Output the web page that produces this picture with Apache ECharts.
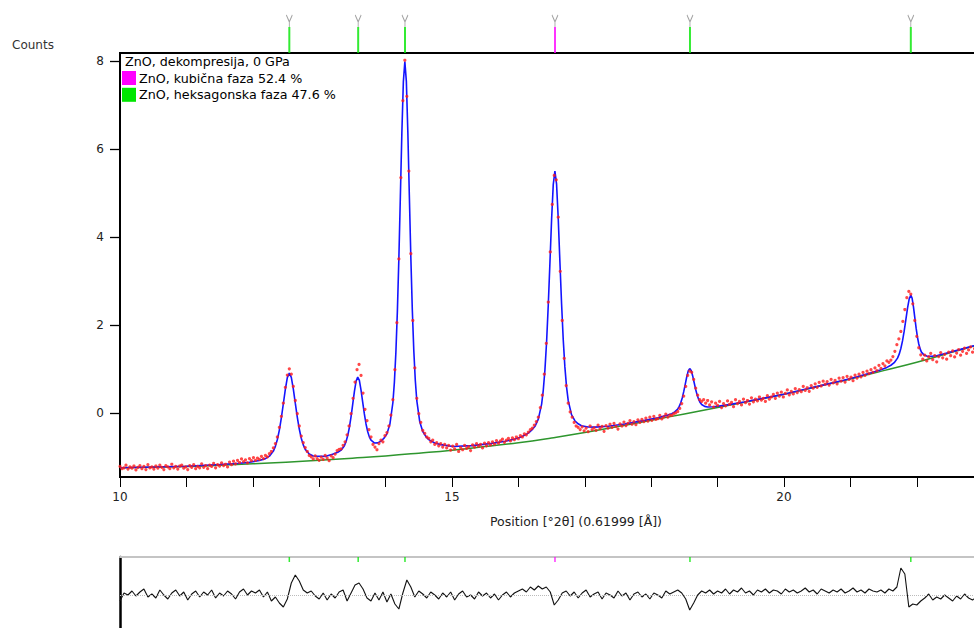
<!DOCTYPE html>
<html><head><meta charset="utf-8">
<script src="https://cdn.jsdelivr.net/npm/echarts@6/dist/echarts.min.js"></script>
<style>html,body{margin:0;padding:0;background:#fff}#c{width:974px;height:628px}</style>
</head><body><div id="c"></div>
<script>
// ---- scan (observed counts), step 0.03 deg from 10.00 ----
const scanStart = 10.0;
const scanStep = 0.03;
const observed = [
 // 10.00 - 11.68
 -1.22,-1.27,-1.25,-1.19,-1.28,-1.23,-1.26,-1.21,-1.30,-1.24,-1.20,
 -1.27,-1.22,-1.29,-1.18,-1.25,-1.23,-1.28,-1.21,-1.26,-1.19,
 -1.24,-1.29,-1.20,-1.23,-1.27,-1.17,-1.25,-1.22,-1.28,-1.21,
 -1.19,-1.26,-1.23,-1.29,-1.20,-1.24,-1.18,-1.27,-1.22,-1.25,
 -1.16,-1.24,-1.20,-1.27,-1.19,-1.22,-1.15,-1.25,-1.18,-1.21,
 -1.14,-1.20,-1.17,-1.23,-1.12,-1.18,
 // 11.71 - 12.25
 -1.10,-1.16,-1.08,-1.13,-1.05,-1.11,-1.07,-1.14,-1.04,-1.09,-1.02,-1.08,-1.03,-1.06,-0.99,-1.04,-0.97,-1.00,-0.93,
 // 12.28 - 12.76
 -0.88,-0.80,-0.70,-0.55,-0.33,-0.08,0.22,0.58,0.86,1.00,0.88,0.60,0.28,-0.02,-0.30,-0.53,-0.68,
 // 12.79 - 13.30
 -0.79,-0.88,-0.97,-1.00,-1.05,-0.98,-1.04,-1.08,-1.01,-1.06,-0.97,-1.03,-1.09,-0.98,-1.02,-0.94,-0.86,-0.83,
 // 13.33 - 13.84
 -0.82,-0.74,-0.66,-0.50,-0.30,-0.02,0.33,0.70,0.98,1.10,0.85,0.45,0.08,-0.18,-0.38,-0.55,-0.72,-0.78,
 // 13.87 - 14.02
 -0.84,-0.70,-0.62,-0.66,-0.52,-0.45,
 // 14.05 - 14.65
 -0.30,-0.05,0.30,0.98,2.05,3.50,5.35,7.10,8.02,7.20,5.50,3.62,2.10,1.02,0.33,-0.02,-0.22,-0.40,-0.47,-0.55,-0.58,
 // 14.68 - 16.15
 -0.66,-0.62,-0.72,-0.68,-0.75,-0.70,-0.78,-0.72,-0.80,-0.74,
 -0.85,-0.76,-0.82,-0.72,-0.88,-0.79,-0.84,-0.74,-0.81,-0.77,
 -0.86,-0.73,-0.78,-0.70,-0.76,-0.72,-0.80,-0.69,-0.75,-0.68,
 -0.73,-0.66,-0.71,-0.63,-0.69,-0.64,-0.60,-0.67,-0.62,-0.58,
 -0.64,-0.57,-0.61,-0.55,-0.59,-0.52,-0.55,-0.48,-0.50,-0.44,
 // 16.18 - 16.78
 -0.38,-0.35,-0.28,-0.20,-0.10,0.12,0.40,0.88,1.58,2.52,3.66,4.74,5.40,5.30,4.45,3.22,2.10,1.24,0.62,0.22,0.02,
 // 16.81 - 17.86
 -0.10,-0.22,-0.30,-0.33,-0.38,-0.32,-0.41,-0.35,-0.43,-0.30,-0.38,-0.34,
 -0.40,-0.28,-0.36,-0.31,-0.42,-0.29,-0.35,-0.26,-0.33,-0.24,-0.31,-0.37,
 -0.25,-0.30,-0.21,-0.29,-0.24,-0.18,-0.26,-0.20,-0.27,-0.16,-0.22,-0.15,
 // 17.89 - 18.28
 -0.20,-0.12,-0.19,-0.10,-0.17,-0.08,-0.15,-0.13,-0.06,-0.14,-0.09,-0.03,-0.10,-0.05,
 // 18.31 - 18.73
 -0.06,-0.02,0.00,0.03,0.10,0.21,0.38,0.60,0.85,0.95,0.92,0.76,0.56,0.40,0.30,
 // 18.76 - 19.81
 0.26,0.30,0.22,0.28,0.18,0.25,0.13,0.22,0.17,0.26,0.12,0.21,
 0.16,0.27,0.19,0.24,0.14,0.30,0.21,0.26,0.18,0.31,0.23,0.28,
 0.20,0.34,0.25,0.31,0.27,0.36,0.29,0.33,0.26,0.39,0.31,0.36,
 // 19.84 - 21.58
 0.42,0.33,0.45,0.38,0.47,0.36,0.44,0.52,0.41,0.49,
 0.43,0.55,0.46,0.53,0.48,0.60,0.51,0.57,0.49,0.62,
 0.56,0.66,0.58,0.69,0.61,0.72,0.65,0.71,0.63,0.76,
 0.68,0.74,0.66,0.79,0.72,0.80,0.70,0.83,0.76,0.81,
 0.73,0.86,0.79,0.88,0.82,0.92,0.85,0.95,0.89,0.98,
 0.92,1.02,0.96,1.08,1.01,1.12,1.07,1.18,1.15,
 // 21.61 - 22.06
 1.20,1.28,1.40,1.55,1.68,1.85,2.08,2.35,2.62,2.76,2.70,2.48,2.10,1.74,1.48,1.32,
 // 22.09 - 22.87
 1.22,1.31,1.18,1.27,1.35,1.21,1.30,1.16,1.28,1.37,1.25,1.33,1.22,1.38,
 1.30,1.41,1.27,1.36,1.44,1.31,1.40,1.47,1.35,1.43,1.50,1.38,1.46
];

// ---- calculated profile ----
const fitPosition = [10.0,10.5,11.0,11.5,11.8,11.95,12.10,12.19,12.25,12.31,12.34,12.37,12.40,12.43,12.46,12.49,12.52,12.55,12.58,12.61,12.64,12.67,12.70,12.73,12.76,12.79,12.85,12.91,13.00,13.10,13.20,13.28,13.33,13.38,13.405,13.43,13.455,13.48,13.505,13.53,13.555,13.58,13.605,13.63,13.655,13.68,13.705,13.73,13.755,13.78,13.83,13.88,13.93,13.98,14.02,14.065,14.11,14.1325,14.155,14.1775,14.20,14.2225,14.245,14.2675,14.29,14.3125,14.335,14.3575,14.38,14.4025,14.425,14.4475,14.47,14.515,14.56,14.605,14.65,14.74,14.83,15.01,15.3,15.6,15.8,15.95,16.05,16.15,16.20,16.25,16.30,16.35,16.375,16.40,16.425,16.45,16.475,16.50,16.525,16.55,16.575,16.60,16.625,16.65,16.675,16.70,16.725,16.75,16.80,16.85,16.90,16.95,17.05,17.15,17.35,17.6,17.9,18.1,18.25,18.31,18.355,18.40,18.4225,18.445,18.4675,18.49,18.5125,18.535,18.5575,18.58,18.6025,18.625,18.6475,18.67,18.6925,18.715,18.7375,18.76,18.805,18.85,18.94,19.1,19.4,19.7,20.0,20.3,20.6,20.9,21.1,21.3,21.45,21.55,21.61,21.66,21.71,21.735,21.76,21.785,21.81,21.835,21.86,21.885,21.91,21.93,21.95,21.97,21.99,22.01,22.03,22.05,22.07,22.11,22.15,22.23,22.31,22.47,22.66,22.86,23.1,23.7];
const fitCounts = [-1.248,-1.232,-1.214,-1.177,-1.147,-1.125,-1.085,-1.042,-0.986,-0.87,-0.763,-0.607,-0.393,-0.116,0.206,0.535,0.801,0.904,0.805,0.545,0.22,-0.096,-0.369,-0.579,-0.729,-0.832,-0.938,-0.984,-0.987,-0.99,-0.94,-0.899,-0.85,-0.747,-0.653,-0.517,-0.328,-0.086,0.196,0.484,0.718,0.811,0.736,0.517,0.241,-0.026,-0.254,-0.426,-0.547,-0.623,-0.685,-0.684,-0.648,-0.571,-0.479,-0.256,0.235,0.699,1.377,2.313,3.524,4.93,6.372,7.53,7.988,7.545,6.39,4.951,3.547,2.34,1.408,0.735,0.275,-0.21,-0.426,-0.536,-0.611,-0.688,-0.724,-0.767,-0.746,-0.695,-0.646,-0.595,-0.543,-0.462,-0.396,-0.307,-0.145,0.198,0.518,0.983,1.623,2.451,3.413,4.398,5.19,5.498,5.2,4.418,3.443,2.492,1.675,1.045,0.59,0.281,-0.04,-0.18,-0.25,-0.293,-0.321,-0.326,-0.305,-0.255,-0.172,-0.111,-0.052,-0.019,0.02,0.087,0.146,0.227,0.339,0.481,0.646,0.814,0.951,1.007,0.963,0.839,0.684,0.532,0.403,0.303,0.234,0.188,0.146,0.134,0.138,0.169,0.246,0.334,0.423,0.53,0.636,0.743,0.819,0.904,0.975,1.033,1.082,1.14,1.244,1.334,1.463,1.636,1.858,2.113,2.376,2.588,2.676,2.605,2.41,2.165,1.926,1.722,1.565,1.454,1.381,1.313,1.29,1.287,1.304,1.368,1.443,1.526,1.623,1.88];

// ---- background ----
const bgPosition = [10,10.5,11,11.5,12,12.5,13,13.5,14,14.5,15,15.5,16,16.5,17,17.5,18,18.5,19,19.5,20,20.5,21,21.5,22,22.5,23,23.7];
const bgCounts = [-1.25,-1.237,-1.22,-1.192,-1.16,-1.122,-1.08,-1.032,-0.98,-0.918,-0.85,-0.768,-0.68,-0.572,-0.45,-0.31,-0.17,-0.025,0.12,0.27,0.42,0.595,0.77,0.96,1.15,1.365,1.58,1.88];

// ---- difference plot, step 0.06 deg from 10.00 ----
const residStart = 10.0;
const residStep = 0.06;
const residual = [
 -0.06,0.02,0.00,0.04,-0.01,0.03,0.06,-0.02,0.01,-0.03,0.05,0.00,-0.04,0.02,0.05,-0.01,0.03,-0.05,0.01,0.04,
 -0.02,0.03,0.00,0.05,-0.03,0.02,-0.01,0.04,0.01,-0.04,0.03,0.06,0.00,0.04,0.02,0.05,-0.02,0.03,-0.06,-0.02,
 -0.08,-0.12,-0.04,0.12,0.20,0.14,0.05,0.02,0.04,-0.01,
 -0.04,0.02,-0.05,0.01,-0.03,0.03,0.05,-0.06,0.02,0.10,
 0.12,0.06,-0.03,-0.06,0.02,-0.05,0.03,-0.07,0.01,-0.09,
 -0.14,0.02,0.15,0.08,-0.02,0.04,0.01,-0.03,0.03,0.00,
 -0.04,0.02,-0.02,0.03,-0.05,0.01,0.04,-0.02,0.00,-0.04,0.03,-0.01,0.02,-0.03,0.01,-0.05,0.00,0.03,-0.02,0.02,
 0.04,0.06,0.03,0.08,0.05,0.09,0.06,0.08,0.03,-0.10,
 -0.05,0.02,0.04,-0.01,0.03,-0.03,0.02,0.05,-0.02,0.01,
 0.03,-0.04,0.02,0.00,-0.03,0.04,-0.01,0.02,-0.05,0.01,0.03,-0.02,0.01,-0.04,0.02,0.00,-0.03,0.04,0.01,0.03,
 0.05,0.02,-0.04,-0.15,-0.08,0.00,0.04,0.02,0.05,0.01,
 0.04,0.02,0.06,0.01,0.05,0.03,0.07,0.02,0.04,0.00,
 0.05,0.03,0.06,0.02,0.05,0.04,0.01,0.06,0.03,0.05,
 0.02,0.04,0.07,0.03,0.05,0.01,0.06,0.04,0.02,0.05,
 0.03,0.06,0.02,0.04,0.07,0.03,0.05,0.02,0.06,0.04,
 0.03,0.05,0.02,0.06,0.04,0.08,0.27,0.21,-0.12,-0.09,
 -0.10,-0.06,-0.03,0.01,-0.05,-0.02,-0.04,0.00,-0.03,-0.06,-0.01,-0.04,0.01,-0.03,-0.05,-0.02
];

// ---- reference pattern lines ----
const refPositions = [12.55, 13.587, 14.292, 16.551, 18.584, 21.91];
const refPhases = ['hex', 'hex', 'hex', 'cub', 'hex', 'hex'];
const phaseColors = { cub: '#ff00ff', hex: '#00e600' };
const legendLines = ['ZnO, dekompresija, 0 GPa', 'ZnO, kubična faza 52.4 %', 'ZnO, heksagonska faza 47.6 %'];
const legendPhases = [null, 'cub', 'hex'];

const xLabelValues = [10, 15, 20];
const yTickValues = [0, 2, 4, 6, 8];

const FONT = '"DejaVu Sans", sans-serif';

const obsData = observed.map((v, i) => [+(scanStart + i * scanStep).toFixed(3), v]);
const fitData = fitPosition.map((x, i) => [x, fitCounts[i]]);
const bgData = bgPosition.map((x, i) => [x, bgCounts[i]]);
const resData = residual.map((v, i) => [+(residStart + i * residStep).toFixed(3), v]);
const refLineData = refPositions.map((x, i) => ({ value: [x, 13], itemStyle: { color: phaseColors[refPhases[i]] } }));
const refCapData = refPositions.map(x => [x, 32]);
const refResData = refPositions.map((x, i) => ({ value: [x, 0.355], itemStyle: { color: phaseColors[refPhases[i]] } }));

const X_MIN = 10, X_MAX = 23.705;
const chart = echarts.init(document.getElementById('c'), null, { renderer: 'svg' });

const graphic = [
  { type: 'text', x: 12, y: 45, style: { text: 'Counts', fill: '#333', font: '12px ' + FONT, verticalAlign: 'middle' } },
  { type: 'text', x: 576, y: 521, style: { text: 'Position [°2θ] (0.61999 [Å])', fill: '#222', font: '12.5px ' + FONT, align: 'center', verticalAlign: 'middle' } },
  { type: 'text', x: 125, y: 61, style: { text: legendLines[0], fill: '#000', font: '12.7px ' + FONT, verticalAlign: 'middle' } }
];
for (let k = 1; k < legendLines.length; k++) {
  const yc = 78 + (k - 1) * 16.8;
  graphic.push({ type: 'rect', shape: { x: 122, y: yc - 7, width: 14, height: 14 }, style: { fill: phaseColors[legendPhases[k]] } });
  graphic.push({ type: 'text', x: 139, y: yc, style: { text: legendLines[k], fill: '#000', font: '12.7px ' + FONT, verticalAlign: 'middle' } });
}

chart.setOption({
  animation: false,
  backgroundColor: '#fff',
  textStyle: { fontFamily: FONT },
  grid: [
    { left: 120, top: 53, width: 910, height: 424, show: true, borderColor: '#000', borderWidth: 2, outerBoundsMode: 'none', containLabel: false },
    { left: 120, top: 10, width: 910, height: 43, outerBoundsMode: 'none', containLabel: false },
    { left: 120, top: 557, width: 910, height: 76, outerBoundsMode: 'none', containLabel: false }
  ],
  xAxis: [
    { gridIndex: 0, type: 'value', min: X_MIN, max: X_MAX, interval: 1,
      axisLine: { show: true, onZero: false, lineStyle: { color: '#000', width: 2 } },
      axisTick: { show: true, length: 10, lineStyle: { color: '#000', width: 1 } },
      axisLabel: { margin: 14, color: '#222', fontSize: 12, fontFamily: FONT,
        formatter: v => xLabelValues.indexOf(Math.round(v * 1000) / 1000) >= 0 ? String(v) : '' },
      splitLine: { show: false } },
    { gridIndex: 1, type: 'value', min: X_MIN, max: X_MAX, show: false },
    { gridIndex: 2, type: 'value', min: X_MIN, max: X_MAX, position: 'top',
      axisLine: { show: true, onZero: false, lineStyle: { color: '#c4c4c4', width: 2 } },
      axisTick: { show: false }, axisLabel: { show: false }, splitLine: { show: false } }
  ],
  yAxis: [
    { gridIndex: 0, type: 'value', min: -1.46, max: 8.185,
      axisLine: { show: true, onZero: false, lineStyle: { color: '#000', width: 2 } },
      axisTick: { show: true, length: 10, customValues: yTickValues, lineStyle: { color: '#000', width: 1.3 } },
      axisLabel: { margin: 16, color: '#222', fontSize: 12, fontFamily: FONT, customValues: yTickValues },
      splitLine: { show: false } },
    { gridIndex: 1, type: 'value', min: 0, max: 43, show: false },
    { gridIndex: 2, type: 'value', min: -0.38, max: 0.38,
      axisLine: { show: true, onZero: false, lineStyle: { color: '#000', width: 2.5 } },
      axisTick: { show: false }, axisLabel: { show: false }, splitLine: { show: false } }
  ],
  series: [
    { name: 'background', type: 'line', xAxisIndex: 0, yAxisIndex: 0, data: bgData, showSymbol: false, symbol: 'none', smooth: true,
      lineStyle: { color: '#2e962e', width: 1.5 }, z: 2 },
    { name: 'calculated', type: 'line', xAxisIndex: 0, yAxisIndex: 0, data: fitData, showSymbol: false, symbol: 'none',
      lineStyle: { color: '#1414ff', width: 1.6 }, z: 3 },
    { name: 'observed', type: 'scatter', xAxisIndex: 0, yAxisIndex: 0, data: obsData, symbol: 'circle', symbolSize: 3.2,
      itemStyle: { color: '#ff1a1a' }, z: 4 },
    { name: 'refLines', type: 'scatter', xAxisIndex: 1, yAxisIndex: 1, data: refLineData, symbol: 'rect', symbolSize: [2, 26], z: 3 },
    { name: 'refCaps', type: 'scatter', xAxisIndex: 1, yAxisIndex: 1, data: refCapData,
      symbol: 'path://M0,0L5,8L10,0M5,8L5,14', symbolSize: [6, 12],
      itemStyle: { color: 'rgba(0,0,0,0)', borderColor: '#8a8a8a', borderWidth: 1.2 }, z: 3 },
    { name: 'difference', type: 'line', xAxisIndex: 2, yAxisIndex: 2, data: resData, showSymbol: false, symbol: 'none',
      lineStyle: { color: '#111', width: 1.1 }, z: 3,
      markLine: { silent: true, symbol: 'none', label: { show: false },
        lineStyle: { type: 'dotted', color: '#bbbbbb', width: 1 }, data: [{ yAxis: 0 }] } },
    { name: 'refTicksDiff', type: 'scatter', xAxisIndex: 2, yAxisIndex: 2, data: refResData, symbol: 'rect', symbolSize: [1.5, 5], z: 4 }
  ],
  graphic: graphic
});
</script>
</body></html>
